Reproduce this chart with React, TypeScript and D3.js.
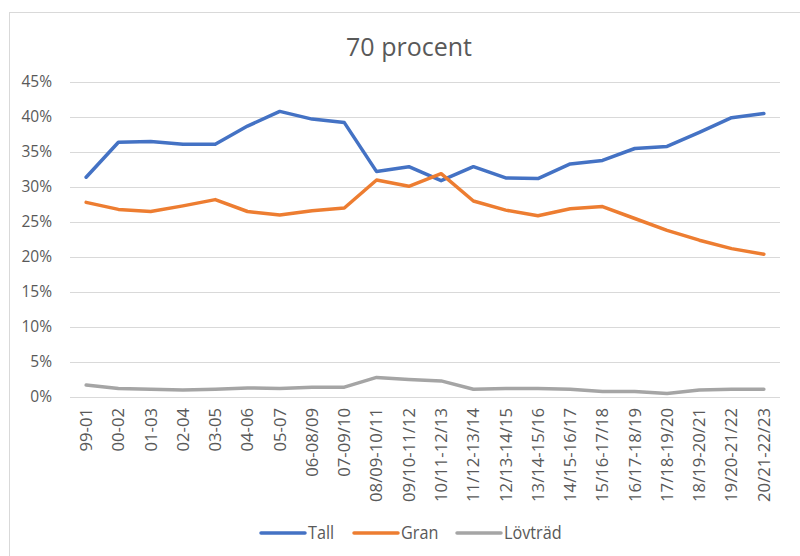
import React, { useEffect, useRef } from 'react';
import * as d3 from 'd3';

const categories = [
  '99-01', '00-02', '01-03', '02-04', '03-05', '04-06', '05-07', '06-08/09', '07-09/10',
  '08/09-10/11', '09/10-11/12', '10/11-12/13', '11/12-13/14', '12/13-14/15', '13/14-15/16',
  '14/15-16/17', '15/16-17/18', '16/17-18/19', '17/18-19/20', '18/19-20/21', '19/20-21/22', '20/21-22/23',
];
const tall = [31.4, 36.4, 36.5, 36.1, 36.1, 38.7, 40.8, 39.7, 39.2, 32.2, 32.9, 30.9, 32.9, 31.3, 31.2, 33.3, 33.8, 35.5, 35.8, 37.8, 39.9, 40.5];
const gran = [27.8, 26.8, 26.5, 27.3, 28.2, 26.5, 26.0, 26.6, 27.0, 31.0, 30.1, 31.9, 28.0, 26.7, 25.9, 26.9, 27.2, 25.5, 23.8, 22.4, 21.2, 20.4];
const lovtrad = [1.7, 1.2, 1.1, 1.0, 1.1, 1.3, 1.2, 1.4, 1.4, 2.8, 2.5, 2.3, 1.1, 1.2, 1.2, 1.1, 0.8, 0.8, 0.5, 1.0, 1.1, 1.1];
const yTicks = [0, 5, 10, 15, 20, 25, 30, 35, 40, 45];

const series = [
  { name: 'Tall', values: tall, color: '#4472C4' },
  { name: 'Gran', values: gran, color: '#ED7D31' },
  { name: 'Lövträd', values: lovtrad, color: '#A5A5A5' },
];

const width = 800;
const height = 556;
const margin = { top: 82, right: 20, bottom: 159, left: 70 };
const font = "'Open Sans', sans-serif";

const App = () => {
  const ref = useRef<SVGSVGElement>(null);

  useEffect(() => {
    const svg = d3.select(ref.current);
    svg.selectAll('*').remove();

    // chart frame
    svg.append('rect')
      .attr('x', 9.5).attr('y', 12.5)
      .attr('width', 900).attr('height', 700)
      .attr('fill', 'white').attr('stroke', '#d9d9d9');

    const x = d3.scaleBand().domain(categories).range([margin.left, width - margin.right]);
    const y = d3.scaleLinear().domain([0, 45]).range([height - margin.bottom, margin.top]);

    svg.append('text')
      .attr('x', 409).attr('y', 56)
      .attr('text-anchor', 'middle')
      .attr('font-family', font).attr('font-size', 25)
      .attr('fill', '#595959')
      .text('70 procent');

    const yAxis = svg.append('g')
      .attr('transform', `translate(${margin.left},0)`)
      .call(d3.axisLeft(y).tickValues(yTicks).tickFormat((d) => `${d}%`)
        .tickSize(-(width - margin.left - margin.right)).tickPadding(18));
    yAxis.select('.domain').remove();
    yAxis.selectAll('.tick line').attr('stroke', '#d9d9d9');
    yAxis.selectAll('.tick text')
      .attr('font-family', font).attr('font-size', 15.5).attr('fill', '#595959');

    const xAxis = svg.append('g')
      .attr('transform', `translate(0,${height - margin.bottom})`)
      .call(d3.axisBottom(x).tickSize(0).tickPadding(0));
    xAxis.select('.domain').remove();
    xAxis.selectAll('.tick text')
      .attr('font-family', font).attr('font-size', 16.7).attr('fill', '#595959')
      .attr('text-anchor', 'end')
      .attr('transform', 'translate(0,11) rotate(-90)')
      .attr('dy', '0.35em').attr('y', 0).attr('x', 0);

    const line = d3.line<number>()
      .x((_, i) => (x(categories[i]) as number) + x.bandwidth() / 2)
      .y((d) => y(d));

    series.forEach((s) => {
      svg.append('path')
        .datum(s.values)
        .attr('d', line)
        .attr('fill', 'none')
        .attr('stroke', s.color)
        .attr('stroke-width', 3.5)
        .attr('stroke-linejoin', 'round')
        .attr('stroke-linecap', 'round');
    });

    const legendX = [261, 354, 457];
    series.forEach((s, i) => {
      const g = svg.append('g').attr('transform', `translate(${legendX[i]},533)`);
      g.append('line').attr('x1', 0).attr('x2', 44)
        .attr('stroke', s.color).attr('stroke-width', 3.5).attr('stroke-linecap', 'round');
      g.append('text').attr('dy', '0.35em')
        .attr('transform', 'translate(47,0) scale(0.9,1)')
        .attr('font-family', font)
        .attr('font-size', 18).attr('fill', '#595959')
        .text(s.name);
    });
  }, []);

  return (
    <svg ref={ref} width={width} height={height}
      style={{ position: 'absolute', left: 0, top: 0, background: 'white' }} />
  );
};

export default App;
